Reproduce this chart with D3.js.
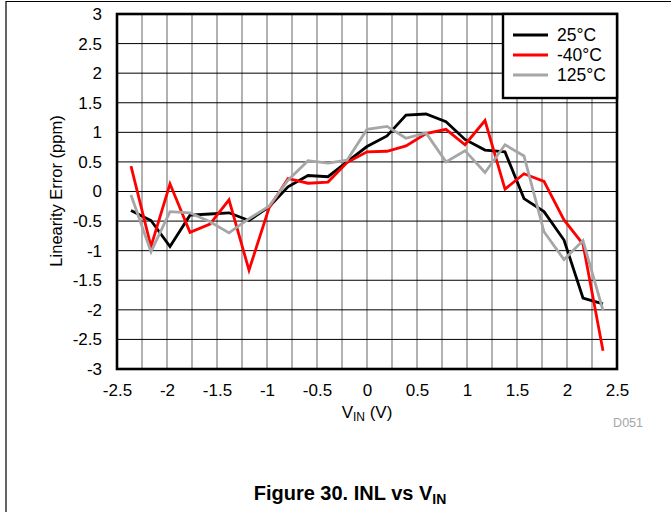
<!DOCTYPE html>
<html><head><meta charset="utf-8">
<script src="https://cdn.jsdelivr.net/npm/d3@7"></script>
<style>body{margin:0;background:#fff;} svg{display:block;font-family:"Liberation Sans",Arial,sans-serif;}</style>
</head><body>
<svg id="c" width="671" height="512"></svg>
<script>
const vin = [-2.36,-2.16,-1.97,-1.77,-1.57,-1.38,-1.18,-0.98,-0.79,-0.59,-0.39,-0.20,0,0.20,0.39,0.59,0.79,0.98,1.18,1.38,1.57,1.77,1.97,2.16,2.36];
const t25 = [-0.32,-0.49,-0.93,-0.40,-0.38,-0.36,-0.49,-0.26,0.08,0.27,0.25,0.50,0.76,0.94,1.29,1.31,1.18,0.88,0.70,0.67,-0.12,-0.34,-0.82,-1.80,-1.90];
const tm40 = [0.43,-0.93,0.13,-0.69,-0.55,-0.14,-1.33,-0.28,0.22,0.14,0.16,0.49,0.67,0.68,0.77,0.98,1.05,0.79,1.20,0.04,0.30,0.17,-0.48,-0.89,-2.69];
const t125 = [-0.06,-1.02,-0.34,-0.36,-0.51,-0.70,-0.46,-0.25,0.19,0.52,0.48,0.53,1.05,1.10,0.90,0.99,0.50,0.69,0.32,0.79,0.60,-0.68,-1.15,-0.83,-2.01];
const seriesNames = ["25°C","-40°C","125°C"];
const seriesColors = ["#000000","#ff0000","#a6a6a6"];
const xTicks = [-2.5,-2,-1.5,-1,-0.5,0,0.5,1,1.5,2,2.5];
const yTicks = [-3,-2.5,-2,-1.5,-1,-0.5,0,0.5,1,1.5,2,2.5,3];
const xMinor = [-2.25,-1.75,-1.25,-0.75,-0.25,0.25,0.75,1.25,1.75,2.25];

const FF = "Liberation Sans, Arial, sans-serif";
const svg = d3.select("#c");
const L=117,R=617,T=14,B=369;
const x = d3.scaleLinear().domain([-2.5,2.5]).range([L,R]);
const y = d3.scaleLinear().domain([-3,3]).range([B,T]);

// page border
svg.append("path").attr("d","M6,512V1.5H671").attr("fill","none").attr("stroke","#000").attr("stroke-width",1.2);

// grid
svg.append("g").selectAll("line").data(xTicks.concat(xMinor)).join("line")
  .attr("x1",d=>x(d)).attr("x2",d=>x(d)).attr("y1",T).attr("y2",B)
  .attr("stroke","#7f7f7f").attr("stroke-width",1.2);
svg.append("g").selectAll("line").data(yTicks).join("line")
  .attr("x1",L).attr("x2",R).attr("y1",d=>y(d)).attr("y2",d=>y(d))
  .attr("stroke","#000").attr("stroke-width",1);

// axes labels
const yAxis = d3.axisLeft(y).tickValues(yTicks).tickSize(0).tickPadding(15).tickFormat(d=>String(d));
const gy = svg.append("g").attr("transform",`translate(${L},0)`).call(yAxis);
const xAxis = d3.axisBottom(x).tickValues(xTicks).tickSize(0).tickPadding(15).tickFormat(d=>String(d));
const gx = svg.append("g").attr("transform",`translate(0,${B})`).call(xAxis);
[gy,gx].forEach(g=>{g.attr("font-size",17).attr("font-family",FF);g.select(".domain").remove();g.selectAll("text").attr("fill","#000");});

// lines
const data=[t25,tm40,t125];
const line = d3.line().x((d,i)=>x(vin[i])).y(d=>y(d));
[0,1,2].forEach(k=>{
  svg.append("path").datum(data[k]).attr("d",line).attr("fill","none")
    .attr("stroke",seriesColors[k]).attr("stroke-width",2.8).attr("stroke-linejoin","miter");
});

// frame
svg.append("rect").attr("x",L).attr("y",T).attr("width",R-L).attr("height",B-T)
  .attr("fill","none").attr("stroke","#000").attr("stroke-width",2.6);

// legend
const lg = svg.append("g");
lg.append("rect").attr("x",503).attr("y",T).attr("width",R-503).attr("height",84)
  .attr("fill","#fff").attr("stroke","#000").attr("stroke-width",2.4);
seriesNames.forEach((n,i)=>{
  const yy=35+i*20;
  lg.append("line").attr("x1",513).attr("x2",548).attr("y1",yy).attr("y2",yy)
    .attr("stroke",seriesColors[i]).attr("stroke-width",2.8);
  lg.append("text").attr("x",557).attr("y",yy+6).attr("font-size",17.5).text(n);
});

// axis titles
svg.append("text").attr("transform","translate(62,191) rotate(-90)").attr("text-anchor","middle")
  .attr("font-size",16.5).text("Linearity Error (ppm)");
const xt = svg.append("text").attr("x",367).attr("y",418).attr("text-anchor","middle").attr("font-size",17);
xt.append("tspan").text("V");
xt.append("tspan").attr("font-size",12).attr("dy",3).text("IN");
xt.append("tspan").attr("dy",-3).text(" (V)");
svg.append("text").attr("x",643).attr("y",427).attr("text-anchor","end").attr("font-size",12.5).attr("fill","#a6a6a6").text("D051");

const tt = svg.append("text").attr("x",350).attr("y",500).attr("text-anchor","middle").attr("font-size",20).attr("font-weight","bold");
tt.append("tspan").text("Figure 30. INL vs V");
tt.append("tspan").attr("font-size",14).attr("dy",4).text("IN");
</script>
</body></html>
